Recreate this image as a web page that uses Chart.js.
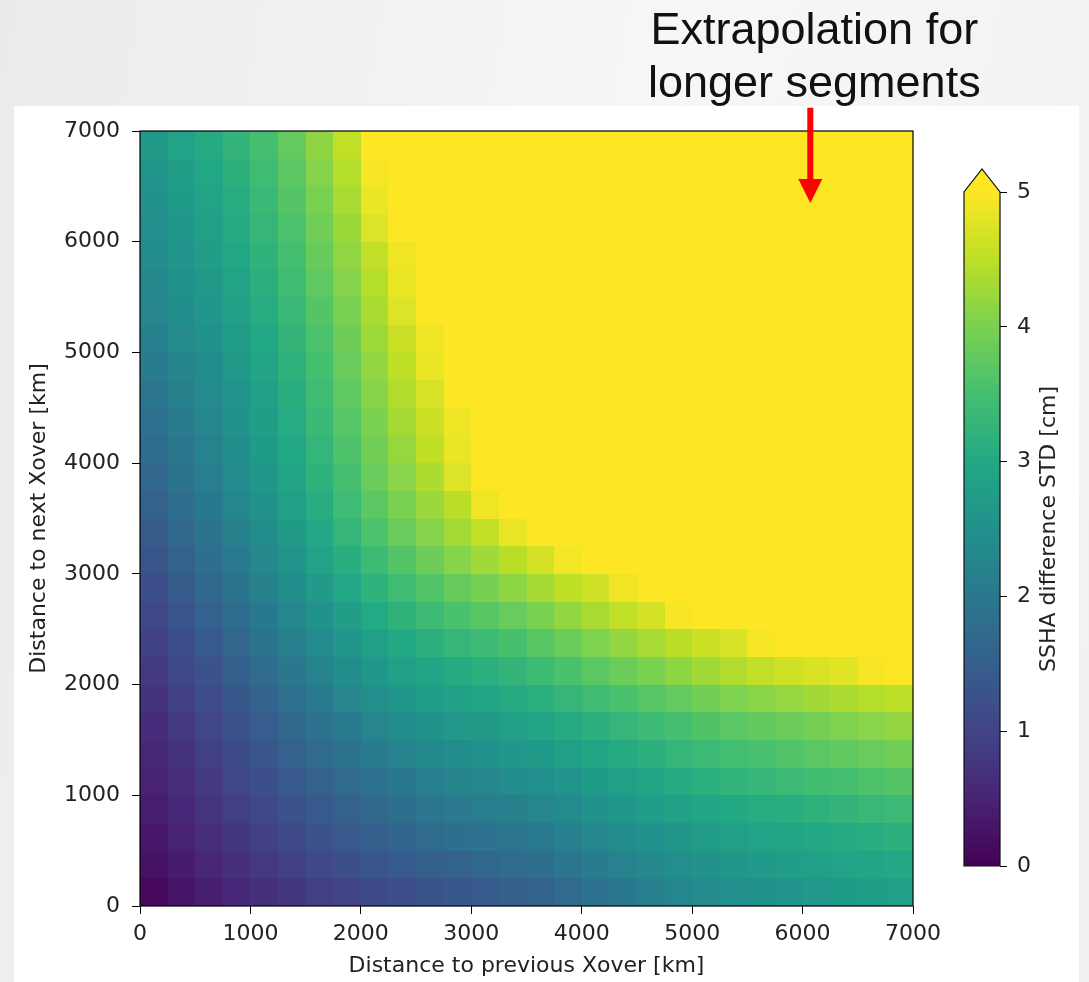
<!DOCTYPE html>
<html>
<head>
<meta charset="utf-8">
<script src="https://cdn.jsdelivr.net/npm/chart.js@4.4.1/dist/chart.umd.min.js"></script>
<style>
  html, body { margin: 0; padding: 0; width: 1089px; height: 982px; overflow: hidden; }
  body { position: relative; background: linear-gradient(100deg, #ebebeb 0%, #f7f7f7 55%, #f1f1f1 100%); }
  #panel { position: absolute; left: 14px; top: 106px; width: 1065px; height: 876px; background: #fff; }
  #main { position: absolute; left: 0; top: 0; }
  #cbar { position: absolute; left: 940px; top: 140px; }
</style>
</head>
<body>
<div id="panel"></div>
<canvas id="main" width="1089" height="982"></canvas>
<canvas id="cbar" width="140" height="760"></canvas>
<script>
// cell centres in km (250 km cells)
const distPrev = [125, 375, 625, 875, 1125, 1375, 1625, 1875, 2125, 2375, 2625, 2875, 3125, 3375,
                  3625, 3875, 4125, 4375, 4625, 4875, 5125, 5375, 5625, 5875, 6125, 6375, 6625, 6875];
const distNext = [6875, 6625, 6375, 6125, 5875, 5625, 5375, 5125, 4875, 4625, 4375, 4125, 3875, 3625,
                  3375, 3125, 2875, 2625, 2375, 2125, 1875, 1625, 1375, 1125, 875, 625, 375, 125];

// SSHA difference STD [cm], one row per distNext value (top row first)
const std6875 = [2.68, 2.86, 3.05, 3.26, 3.50, 3.80, 4.16, 4.53, 5, 5, 5, 5, 5, 5, 5, 5, 5, 5, 5, 5, 5, 5, 5, 5, 5, 5, 5, 5];
const std6625 = [2.60, 2.78, 2.97, 3.18, 3.43, 3.72, 4.08, 4.44, 4.95, 5, 5, 5, 5, 5, 5, 5, 5, 5, 5, 5, 5, 5, 5, 5, 5, 5, 5, 5];
const std6375 = [2.53, 2.71, 2.90, 3.11, 3.36, 3.65, 3.99, 4.35, 4.85, 5, 5, 5, 5, 5, 5, 5, 5, 5, 5, 5, 5, 5, 5, 5, 5, 5, 5, 5];
const std6125 = [2.46, 2.64, 2.82, 3.04, 3.29, 3.57, 3.91, 4.26, 4.75, 5, 5, 5, 5, 5, 5, 5, 5, 5, 5, 5, 5, 5, 5, 5, 5, 5, 5, 5];
const std5875 = [2.39, 2.57, 2.75, 2.97, 3.22, 3.50, 3.82, 4.17, 4.52, 4.90, 5, 5, 5, 5, 5, 5, 5, 5, 5, 5, 5, 5, 5, 5, 5, 5, 5, 5];
const std5625 = [2.32, 2.50, 2.67, 2.89, 3.14, 3.42, 3.74, 4.08, 4.43, 4.85, 5, 5, 5, 5, 5, 5, 5, 5, 5, 5, 5, 5, 5, 5, 5, 5, 5, 5];
const std5375 = [2.25, 2.43, 2.60, 2.82, 3.07, 3.34, 3.65, 3.99, 4.35, 4.75, 5, 5, 5, 5, 5, 5, 5, 5, 5, 5, 5, 5, 5, 5, 5, 5, 5, 5];
const std5125 = [2.16, 2.35, 2.52, 2.74, 2.99, 3.27, 3.57, 3.90, 4.27, 4.59, 4.90, 5, 5, 5, 5, 5, 5, 5, 5, 5, 5, 5, 5, 5, 5, 5, 5, 5];
const std4875 = [2.06, 2.26, 2.44, 2.67, 2.92, 3.20, 3.50, 3.83, 4.18, 4.50, 4.85, 5, 5, 5, 5, 5, 5, 5, 5, 5, 5, 5, 5, 5, 5, 5, 5, 5];
const std4625 = [1.96, 2.17, 2.36, 2.59, 2.85, 3.13, 3.42, 3.75, 4.10, 4.41, 4.71, 5, 5, 5, 5, 5, 5, 5, 5, 5, 5, 5, 5, 5, 5, 5, 5, 5];
const std4375 = [1.86, 2.08, 2.28, 2.52, 2.78, 3.06, 3.35, 3.67, 4.01, 4.32, 4.62, 4.90, 5, 5, 5, 5, 5, 5, 5, 5, 5, 5, 5, 5, 5, 5, 5, 5];
const std4125 = [1.76, 1.98, 2.20, 2.44, 2.71, 2.99, 3.28, 3.59, 3.92, 4.22, 4.51, 4.85, 5, 5, 5, 5, 5, 5, 5, 5, 5, 5, 5, 5, 5, 5, 5, 5];
const std3875 = [1.65, 1.89, 2.12, 2.37, 2.64, 2.92, 3.21, 3.51, 3.83, 4.11, 4.38, 4.75, 5, 5, 5, 5, 5, 5, 5, 5, 5, 5, 5, 5, 5, 5, 5, 5];
const std3625 = [1.55, 1.79, 2.03, 2.28, 2.55, 2.83, 3.11, 3.41, 3.71, 3.99, 4.24, 4.48, 4.90, 5, 5, 5, 5, 5, 5, 5, 5, 5, 5, 5, 5, 5, 5, 5];
const std3375 = [1.44, 1.68, 1.92, 2.17, 2.44, 2.72, 3.00, 3.28, 3.57, 3.84, 4.08, 4.31, 4.52, 4.85, 5, 5, 5, 5, 5, 5, 5, 5, 5, 5, 5, 5, 5, 5];
const std3125 = [1.33, 1.57, 1.80, 2.05, 2.32, 2.59, 2.86, 3.13, 3.40, 3.65, 3.88, 4.09, 4.28, 4.48, 4.68, 4.92, 5, 5, 5, 5, 5, 5, 5, 5, 5, 5, 5, 5];
const std2875 = [1.21, 1.44, 1.67, 1.91, 2.17, 2.44, 2.69, 2.95, 3.21, 3.43, 3.63, 3.82, 3.98, 4.15, 4.33, 4.50, 4.63, 4.90, 5, 5, 5, 5, 5, 5, 5, 5, 5, 5];
const std2625 = [1.09, 1.31, 1.54, 1.77, 2.03, 2.29, 2.53, 2.78, 3.02, 3.22, 3.39, 3.55, 3.69, 3.84, 4.00, 4.18, 4.35, 4.52, 4.67, 4.95, 5, 5, 5, 5, 5, 5, 5, 5];
const std2375 = [0.97, 1.19, 1.41, 1.64, 1.89, 2.14, 2.37, 2.61, 2.83, 3.01, 3.16, 3.28, 3.40, 3.53, 3.69, 3.85, 4.02, 4.19, 4.34, 4.48, 4.61, 4.71, 4.95, 5, 5, 5, 5, 5];
const std2125 = [0.85, 1.07, 1.27, 1.50, 1.75, 1.98, 2.21, 2.43, 2.64, 2.81, 2.94, 3.05, 3.15, 3.27, 3.40, 3.55, 3.71, 3.87, 4.01, 4.15, 4.29, 4.41, 4.53, 4.63, 4.72, 4.78, 4.95, 5];
const std1875 = [0.73, 0.94, 1.14, 1.36, 1.60, 1.83, 2.04, 2.25, 2.45, 2.61, 2.74, 2.85, 2.94, 3.04, 3.15, 3.28, 3.42, 3.55, 3.67, 3.80, 3.92, 4.02, 4.12, 4.20, 4.29, 4.37, 4.43, 4.49];
const std1625 = [0.63, 0.83, 1.03, 1.24, 1.47, 1.68, 1.88, 2.07, 2.25, 2.41, 2.54, 2.65, 2.72, 2.81, 2.91, 3.03, 3.16, 3.28, 3.39, 3.51, 3.61, 3.70, 3.79, 3.87, 3.95, 4.03, 4.11, 4.19];
const std1375 = [0.56, 0.74, 0.94, 1.13, 1.34, 1.53, 1.72, 1.90, 2.06, 2.20, 2.33, 2.44, 2.51, 2.60, 2.69, 2.80, 2.93, 3.05, 3.16, 3.28, 3.38, 3.47, 3.54, 3.62, 3.70, 3.77, 3.84, 3.92];
const std1125 = [0.48, 0.66, 0.84, 1.03, 1.21, 1.39, 1.56, 1.73, 1.87, 2.01, 2.13, 2.23, 2.30, 2.39, 2.48, 2.58, 2.71, 2.83, 2.94, 3.05, 3.15, 3.24, 3.30, 3.38, 3.45, 3.51, 3.58, 3.65];
const std875  = [0.41, 0.57, 0.75, 0.92, 1.08, 1.25, 1.41, 1.56, 1.69, 1.82, 1.93, 2.02, 2.09, 2.18, 2.27, 2.37, 2.50, 2.62, 2.73, 2.84, 2.93, 3.01, 3.07, 3.13, 3.20, 3.26, 3.32, 3.38];
const std625  = [0.33, 0.48, 0.65, 0.80, 0.95, 1.10, 1.25, 1.38, 1.51, 1.62, 1.72, 1.81, 1.88, 1.96, 2.05, 2.15, 2.29, 2.41, 2.53, 2.64, 2.73, 2.80, 2.86, 2.92, 2.99, 3.05, 3.10, 3.16];
const std375  = [0.24, 0.39, 0.54, 0.67, 0.81, 0.95, 1.08, 1.20, 1.32, 1.41, 1.51, 1.58, 1.65, 1.73, 1.82, 1.94, 2.08, 2.21, 2.34, 2.45, 2.55, 2.63, 2.69, 2.75, 2.82, 2.88, 2.93, 2.99];
const std125  = [0.10, 0.29, 0.43, 0.55, 0.67, 0.79, 0.92, 1.02, 1.13, 1.21, 1.29, 1.36, 1.43, 1.51, 1.60, 1.72, 1.87, 2.01, 2.15, 2.27, 2.37, 2.45, 2.51, 2.57, 2.65, 2.71, 2.75, 2.81];
const stdRows = [std6875, std6625, std6375, std6125, std5875, std5625, std5375, std5125, std4875, std4625,
                 std4375, std4125, std3875, std3625, std3375, std3125, std2875, std2625, std2375, std2125,
                 std1875, std1625, std1375, std1125, std875, std625, std375, std125];

const axisTicks = [0, 1000, 2000, 3000, 4000, 5000, 6000, 7000];
const cbarTicks = [0, 1, 2, 3, 4, 5];
const cbarMax = 5;

// annotation arrow, in km
const arrowX = 6070;
const arrowTop = 7210;
const arrowTip = 6350;
const noteLines = ["Extrapolation for", "longer segments"];

const cellSize = 250;
const viridis = ["#440154", "#482475", "#414487", "#355f8d", "#2a788e", "#21918c",
                 "#22a884", "#44bf70", "#7ad151", "#bddf26", "#fde725"];

function hexRgb(h) {
    return [parseInt(h.slice(1, 3), 16), parseInt(h.slice(3, 5), 16), parseInt(h.slice(5, 7), 16)];
}

function viridisColor(v) {
    const t = Math.max(0, Math.min(1, v / cbarMax)) * (viridis.length - 1);
    const i = Math.min(Math.floor(t), viridis.length - 2);
    const f = t - i;
    const a = hexRgb(viridis[i]);
    const b = hexRgb(viridis[i + 1]);
    const c = a.map((ch, k) => Math.round(ch + (b[k] - ch) * f));
    return `rgb(${c[0]}, ${c[1]}, ${c[2]})`;
}

const cells = [];
distNext.forEach((y, r) => {
    distPrev.forEach((x, c) => cells.push({ x: x, y: y, v: stdRows[r][c] }));
});

const tickFont = { family: "DejaVu Sans", size: 22 };
const textColor = "#222";

const heatmapPlugin = {
    id: "heatmap",
    beforeDatasetsDraw(chart) {
        const { ctx, chartArea, scales: { x, y } } = chart;
        ctx.save();
        ctx.beginPath();
        ctx.rect(chartArea.left, chartArea.top, chartArea.width, chartArea.height);
        ctx.clip();
        chart.data.datasets[0].data.forEach((d) => {
            const x0 = Math.round(x.getPixelForValue(d.x - cellSize / 2));
            const x1 = Math.round(x.getPixelForValue(d.x + cellSize / 2));
            const y0 = Math.round(y.getPixelForValue(d.y + cellSize / 2));
            const y1 = Math.round(y.getPixelForValue(d.y - cellSize / 2));
            ctx.fillStyle = viridisColor(d.v);
            ctx.fillRect(x0, y0, x1 - x0, y1 - y0);
        });
        ctx.restore();
    },
    afterDraw(chart) {
        const { ctx, chartArea, scales: { x, y } } = chart;
        ctx.save();
        // axes frame
        ctx.strokeStyle = "#000";
        ctx.lineWidth = 1.2;
        ctx.strokeRect(chartArea.left, chartArea.top, chartArea.width, chartArea.height);

        // red arrow
        const ax = x.getPixelForValue(arrowX);
        const top = y.getPixelForValue(arrowTop);
        const tip = y.getPixelForValue(arrowTip);
        const headLen = 24;
        ctx.fillStyle = "#ff0000";
        ctx.fillRect(ax - 3, top, 6, tip - headLen - top + 1);
        ctx.beginPath();
        ctx.moveTo(ax - 12, tip - headLen);
        ctx.lineTo(ax + 12, tip - headLen);
        ctx.lineTo(ax, tip);
        ctx.closePath();
        ctx.fill();

        // note text
        ctx.fillStyle = "#111";
        ctx.font = '45px "Liberation Sans"';
        ctx.textAlign = "center";
        ctx.textBaseline = "alphabetic";
        ctx.fillText(noteLines[0], ax + 4, 44);
        ctx.fillText(noteLines[1], ax + 4, 97);
        ctx.restore();
    }
};

new Chart(document.getElementById("main"), {
    type: "scatter",
    data: {
        datasets: [{ data: cells, pointRadius: 0, pointHoverRadius: 0 }]
    },
    options: {
        responsive: false,
        animation: false,
        events: [],
        layout: { padding: { left: 26, top: 131, right: 176, bottom: 2 } },
        plugins: { legend: { display: false }, tooltip: { enabled: false } },
        scales: {
            x: {
                type: "linear",
                min: 0,
                max: 7000,
                afterBuildTicks: (s) => { s.ticks = axisTicks.map((v) => ({ value: v })); },
                afterFit: (s) => { s.height = 74; },
                ticks: { font: tickFont, color: textColor, padding: 7, maxRotation: 0, callback: (v) => String(v) },
                grid: { drawOnChartArea: false, drawTicks: true, tickLength: 8, color: "#000" },
                border: { display: false },
                title: {
                    display: true,
                    text: "Distance to previous Xover [km]",
                    font: tickFont,
                    color: textColor,
                    padding: { top: 0, bottom: 1 }
                }
            },
            y: {
                type: "linear",
                min: 0,
                max: 7000,
                afterBuildTicks: (s) => { s.ticks = axisTicks.map((v) => ({ value: v })); },
                afterFit: (s) => { s.width = 114; },
                ticks: { font: tickFont, color: textColor, padding: 12, callback: (v) => String(v) },
                grid: { drawOnChartArea: false, drawTicks: true, tickLength: 8, color: "#000" },
                border: { display: false },
                title: {
                    display: true,
                    text: "Distance to next Xover [km]",
                    font: tickFont,
                    color: textColor,
                    padding: { top: 0, bottom: 0 }
                }
            }
        }
    },
    plugins: [heatmapPlugin]
});

const cbarPlugin = {
    id: "cbar",
    beforeDatasetsDraw(chart) {
        const { ctx, chartArea, scales: { y } } = chart;
        const yTop = y.getPixelForValue(cbarMax);
        const yBot = y.getPixelForValue(0);
        const l = chartArea.left;
        const r = chartArea.right;
        const ext = 23;
        ctx.save();
        const grad = ctx.createLinearGradient(0, yBot, 0, yTop);
        viridis.forEach((c, i) => grad.addColorStop(i / (viridis.length - 1), c));
        ctx.fillStyle = grad;
        ctx.fillRect(l, yTop, r - l, yBot - yTop);
        ctx.fillStyle = viridis[viridis.length - 1];
        ctx.beginPath();
        ctx.moveTo(l, yTop + 0.5);
        ctx.lineTo((l + r) / 2, yTop - ext);
        ctx.lineTo(r, yTop + 0.5);
        ctx.closePath();
        ctx.fill();

        ctx.strokeStyle = "#111";
        ctx.lineWidth = 1.2;
        ctx.beginPath();
        ctx.moveTo(l, yBot);
        ctx.lineTo(l, yTop);
        ctx.lineTo((l + r) / 2, yTop - ext);
        ctx.lineTo(r, yTop);
        ctx.lineTo(r, yBot);
        ctx.closePath();
        ctx.stroke();

        // colorbar label, reading bottom to top
        ctx.translate(109, (yTop + yBot) / 2);
        ctx.rotate(-Math.PI / 2);
        ctx.fillStyle = textColor;
        ctx.font = '22px "DejaVu Sans"';
        ctx.textAlign = "center";
        ctx.textBaseline = "middle";
        ctx.fillText("SSHA difference STD [cm]", 0, 0);
        ctx.restore();
    }
};

new Chart(document.getElementById("cbar"), {
    type: "scatter",
    data: {
        datasets: [{ data: cbarTicks.map((v) => ({ x: 0.5, y: v })), pointRadius: 0, pointHoverRadius: 0 }]
    },
    options: {
        responsive: false,
        animation: false,
        events: [],
        layout: { padding: { left: 24, top: 52, right: 0, bottom: 34 } },
        plugins: { legend: { display: false }, tooltip: { enabled: false } },
        scales: {
            x: { display: false, min: 0, max: 1 },
            y: {
                position: "right",
                min: 0,
                max: cbarMax,
                afterBuildTicks: (s) => { s.ticks = cbarTicks.map((v) => ({ value: v })); },
                afterFit: (s) => { s.width = 80; },
                ticks: { font: tickFont, color: textColor, padding: 10, callback: (v) => String(v) },
                grid: { drawOnChartArea: false, drawTicks: true, tickLength: 7, color: "#000" },
                border: { display: false }
            }
        }
    },
    plugins: [cbarPlugin]
});
</script>
</body>
</html>
